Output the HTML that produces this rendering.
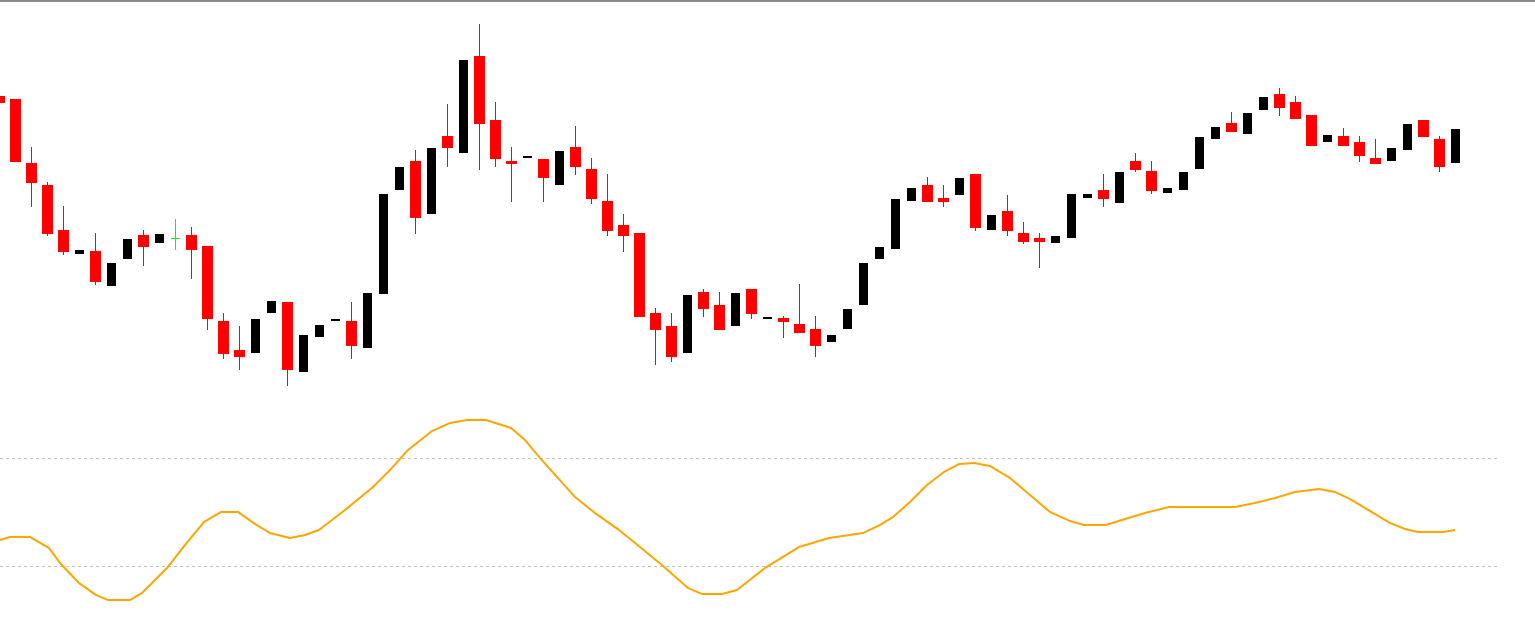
<!DOCTYPE html>
<html><head><meta charset="utf-8"><style>
html,body{margin:0;padding:0;background:#fff;}
svg{display:block;}
</style></head><body>
<svg id="s" width="1535" height="621" xmlns="http://www.w3.org/2000/svg">
<rect x="0" y="0" width="1535" height="621" fill="#fff"/>
<rect x="0" y="0" width="1535" height="2" fill="#8a8a8a"/>
<line x1="0" y1="458.5" x2="1497" y2="458.5" stroke="#c0c0c0" stroke-width="1" stroke-dasharray="3,3"/>
<line x1="0" y1="566.5" x2="1497" y2="566.5" stroke="#c0c0c0" stroke-width="1" stroke-dasharray="3,3"/>
<polyline fill="none" stroke="#ffa500" stroke-width="2" stroke-linejoin="round" points="0,540 10,537 30,537 49,548 60,563 79,583 96,595 108,600 130,600 142,593 167,568 185,545 204,522 221,512 238,512 255,524 270,533 290,538 305,535 319,530 345,510 373,487 390,470 408,450 432,431 450,423 467,420 486,420 511,428 525,440 540,458 575,497 595,513 619,530 640,547 663,566 688,588 702,594 722,594 737,590 765,568 799,547 829,538 863,533 880,525 893,517 910,502 927,485 944,472 959,464 974,463 990,466 1010,478 1030,495 1050,512 1070,521 1084,525 1106,525 1125,519 1145,513 1169,507 1235,507 1255,503 1275,498 1295,492 1319,489 1335,492 1350,499 1370,511 1390,523 1405,529 1418,532 1443,532 1455,530"/>
<g id="c"></g>
</svg>
<script>
var d=[
[-1,'r',96,103],[0,'r',99,162],[1,'r',163,183,147,207],[2,'r',185,234,182,236],[3,'r',230,252,206,255],
[4,'b',250,254],[5,'r',251,282,233,285],[6,'b',263,286],[7,'b',239,259],[8,'r',235,247,230,266],[9,'b',234,243],
[10,'g',238,238,219,250],[11,'r',235,250,227,279],[12,'r',246,319,246,330],[13,'r',321,354,313,359],[14,'r',350,357,326,370],
[15,'b',319,353],[16,'b',301,313],[17,'r',302,370,302,386],[18,'b',335,372],[19,'b',325,337],[20,'b',319,321],
[21,'r',321,346,302,359],[22,'b',293,348],[23,'b',194,294],[24,'b',167,190],[25,'r',161,218,150,234],[26,'b',148,214],
[27,'r',136,148,104,167],[28,'b',60,153],[29,'r',56,124,24,170],[30,'r',120,159,102,167],[31,'r',161,164,147,202],
[32,'b',156,158],[33,'r',159,178,159,202],[34,'b',151,185],[35,'r',147,167,126,175],[36,'r',169,199,158,204],
[37,'r',201,231,174,236],[38,'r',225,236,214,252],[39,'r',233,317],[40,'r',313,330,308,365],[41,'r',326,357,313,362],
[42,'b',295,353],[43,'r',292,309,289,317],[44,'r',305,330,292,330],[45,'b',293,326],[46,'r',289,314,289,319],
[47,'b',317,318],[48,'r',318,322,316,338],[49,'r',324,333,284,333],[50,'r',329,346,316,357],[51,'b',335,342],
[52,'b',309,329],[53,'b',263,305],[54,'b',247,259],[55,'b',199,249],[56,'b',188,201],[57,'r',185,202,177,202],
[58,'r',198,202,185,207],[59,'b',178,195],[60,'r',174,228,174,231],[61,'b',215,230],[62,'r',211,231,195,236],
[63,'r',233,242,222,244],[64,'r',238,242,233,268],[65,'b',236,243],[66,'b',194,238],[67,'b',194,198],
[68,'r',190,199,174,207],[69,'b',172,203],[70,'r',161,170,153,172],[71,'r',171,191,161,194],[72,'b',188,193],
[73,'b',172,190],[74,'b',137,169],[75,'b',127,139],[76,'r',123,132,112,132],[77,'b',113,134],[78,'b',97,110],
[79,'r',94,108,88,116],[80,'r',102,119,96,119],[81,'r',115,146],[82,'b',135,142],[83,'r',136,146,128,146],
[84,'r',142,156,136,162],[85,'r',158,164,139,164],[86,'b',148,161],[87,'b',124,150],[88,'r',120,137],
[89,'r',139,167,136,172],[90,'b',129,163]];
var h='';
d.forEach(function(a){var k=a[0],t=a[1],x=16*k;
 if(a.length>4){var col=t=='g'?'#00ff00':'#ff0000';h+='<rect x="'+(x+15)+'" y="'+a[4]+'" width="1" height="'+(a[5]-a[4])+'" fill="'+col+'"/>';}
 if(t=='r')h+='<rect x="'+(x+10)+'" y="'+a[2]+'" width="11" height="'+Math.max(3,a[3]-a[2])+'" fill="#ff0000"/>';
 else if(t=='b')h+='<rect x="'+(x+11)+'" y="'+a[2]+'" width="9" height="'+Math.max(2,a[3]-a[2])+'" fill="#000"/>';
 else h+='<rect x="'+(x+11)+'" y="'+a[2]+'" width="9" height="1" fill="#00ff00"/>';
});
document.getElementById('c').innerHTML=h;
</script>
</body></html>
